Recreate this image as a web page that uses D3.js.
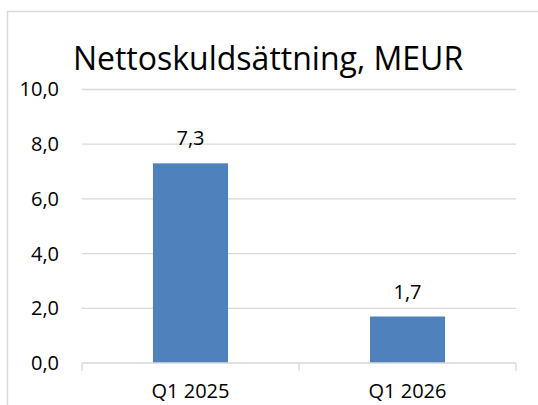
<!DOCTYPE html>
<html>
<head>
<meta charset="utf-8">
<script src="https://cdn.jsdelivr.net/npm/d3@7"></script>
<style>
	body { margin: 0; background: #fff; }
	svg { display: block; font-family: "Open Sans", sans-serif; }
</style>
</head>
<body>
<div id="chart"></div>
<script>
const categories = ["Q1 2025", "Q1 2026"]
const values = [7.3, 1.7]
const yTicks = [0, 2, 4, 6, 8, 10]
const title = "Nettoskuldsättning, MEUR"

const width = 538
const height = 405
const plot = { left: 82, right: 516, top: 89.5, bottom: 363 }
const fmt = (v) => d3.format(".1f")(v).replace(".", ",")

const svg = d3
	.select("#chart")
	.append("svg")
	.attr("width", width)
	.attr("height", height)

// chart border (cropped on the right and bottom)
svg.append("rect")
	.attr("x", 7.5)
	.attr("y", 11.5)
	.attr("width", 600)
	.attr("height", 500)
	.attr("fill", "#fff")
	.attr("stroke", "#d9d9d9")
	.attr("stroke-width", 1.5)

svg.append("text")
	.attr("x", 268)
	.attr("y", 70)
	.attr("text-anchor", "middle")
	.attr("font-size", 32)
	.attr("fill", "#000")
	.text(title)

const x = d3
	.scaleBand()
	.domain(categories)
	.range([plot.left, plot.right])
	.paddingInner(0.654)
	.paddingOuter(0.327)

const y = d3.scaleLinear().domain([0, 10]).range([plot.bottom, plot.top])

// gridlines
svg.append("g")
	.selectAll("line")
	.data(yTicks.filter((d) => d > 0))
	.join("line")
	.attr("x1", plot.left)
	.attr("x2", plot.right)
	.attr("y1", (d) => y(d))
	.attr("y2", (d) => y(d))
	.attr("stroke", "#d9d9d9")
	.attr("stroke-width", 1.3)

// y axis labels
const yAxis = svg
	.append("g")
	.attr("transform", `translate(${plot.left - 4},0)`)
	.call(d3.axisLeft(y).tickValues(yTicks).tickSize(0).tickPadding(19).tickFormat(fmt))
yAxis.select(".domain").remove()
yAxis.selectAll("text").attr("font-size", 20).attr("fill", "#000").attr("font-family", "Open Sans")

// bars
svg.append("g")
	.selectAll("rect")
	.data(values)
	.join("rect")
	.attr("x", (d, i) => x(categories[i]))
	.attr("width", x.bandwidth())
	.attr("y", (d) => y(d))
	.attr("height", (d) => y(0) - y(d))
	.attr("fill", "#4f81bd")

// data labels
svg.append("g")
	.selectAll("text")
	.data(values)
	.join("text")
	.attr("x", (d, i) => x(categories[i]) + x.bandwidth() / 2)
	.attr("y", (d) => y(d) - 18)
	.attr("text-anchor", "middle")
	.attr("font-size", 20)
	.attr("fill", "#000")
	.text(fmt)

// x axis with ticks between categories
const xAxis = svg.append("g")
xAxis.append("line")
	.attr("x1", plot.left)
	.attr("x2", plot.right)
	.attr("y1", plot.bottom)
	.attr("y2", plot.bottom)
	.attr("stroke", "#d9d9d9")
	.attr("stroke-width", 1.3)

const tickX = [plot.left, ...categories.slice(1).map((c) => x(c) - x.step() * x.paddingInner() / 2), plot.right]
xAxis.selectAll(".tick")
	.data(tickX)
	.join("line")
	.attr("class", "tick")
	.attr("x1", (d) => d)
	.attr("x2", (d) => d)
	.attr("y1", plot.bottom)
	.attr("y2", plot.bottom + 8)
	.attr("stroke", "#d9d9d9")
	.attr("stroke-width", 1.3)

xAxis.selectAll("text")
	.data(categories)
	.join("text")
	.attr("x", (d) => x(d) + x.bandwidth() / 2)
	.attr("y", 398)
	.attr("text-anchor", "middle")
	.attr("font-size", 20)
	.attr("fill", "#000")
	.text((d) => d)
</script>
</body>
</html>
